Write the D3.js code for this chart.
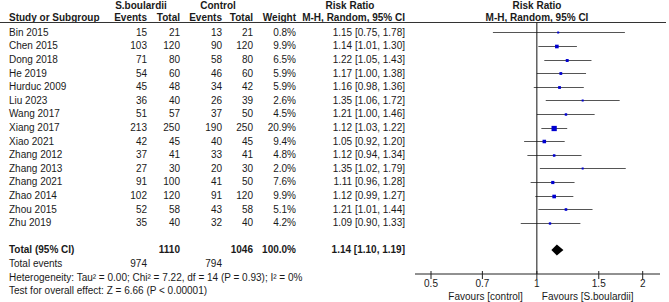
<!DOCTYPE html>
<html>
<head>
<meta charset="utf-8">
<script src="https://cdn.jsdelivr.net/npm/d3@7"></script>
<style>
  body { margin: 0; background: #fff; }
  text { font-family: "Liberation Sans", Arial, sans-serif; font-size: 10px; fill: #1a1a1a; }
  .bold { font-weight: bold; }
</style>
</head>
<body>
<div id="chart"></div>
<script>
const studies = ["Bin 2015", "Chen 2015", "Dong 2018", "He 2019", "Hurduc 2009", "Liu 2023", "Wang 2017", "Xiang 2017",
  "Xiao 2021", "Zhang 2012", "Zhang 2013", "Zhang 2021", "Zhao 2014", "Zhou 2015", "Zhu 2019"];
const expEvents = [15, 103, 71, 54, 45, 36, 51, 213, 42, 37, 27, 91, 102, 52, 35];
const expTotal = [21, 120, 80, 60, 48, 40, 57, 250, 45, 41, 30, 100, 120, 58, 40];
const ctlEvents = [13, 90, 58, 46, 34, 26, 37, 190, 40, 33, 20, 41, 91, 43, 32];
const ctlTotal = [21, 120, 80, 60, 42, 39, 50, 250, 45, 41, 30, 50, 120, 58, 40];
const weights = [0.8, 9.9, 6.5, 5.9, 5.9, 2.6, 4.5, 20.9, 9.4, 4.8, 2.0, 7.6, 9.9, 5.1, 4.2];
const rr = [1.15, 1.14, 1.22, 1.17, 1.16, 1.35, 1.21, 1.12, 1.05, 1.12, 1.35, 1.11, 1.12, 1.21, 1.09];
const lower = [0.75, 1.01, 1.05, 1.00, 0.98, 1.06, 1.00, 1.03, 0.92, 0.94, 1.02, 0.96, 0.99, 1.01, 0.90];
const upper = [1.78, 1.30, 1.43, 1.38, 1.36, 1.72, 1.46, 1.22, 1.20, 1.34, 1.79, 1.28, 1.27, 1.44, 1.33];
const total = { label: "Total (95% CI)", expTotal: 1110, ctlTotal: 1046, weight: "100.0%", rr: 1.14, lower: 1.10, upper: 1.19 };
const totalEvents = [974, 794];
const heterogeneity = "Heterogeneity: Tau\u00b2 = 0.00; Chi\u00b2 = 7.22, df = 14 (P = 0.93); I\u00b2 = 0%";
const overallTest = "Test for overall effect: Z = 6.66 (P < 0.00001)";
const axisTicks = [0.5, 0.7, 1, 1.5, 2];

const width = 669, height = 302;
const rowStep = 13.6, firstRow = 32.3;

const svg = d3.select("#chart").append("svg")
  .attr("width", width).attr("height", height);

// columns (right edge of numbers)
const col = { study: 9, expE: 147, expT: 180, ctlE: 222, ctlT: 253, weight: 296, rr: 405 };

const y = d3.scaleLinear().domain([0, 1]).range([firstRow, firstRow + rowStep]);
const x = d3.scaleLog().domain([0.5, 2]).range([431, 642.7]);
const axisY = 274;

function txt(xp, yp, s, anchor, cls) {
  return svg.append("text").attr("x", xp).attr("y", yp).attr("dy", "0.35em")
    .attr("text-anchor", anchor || "start").attr("class", cls || null).text(s);
}

// headers
txt(141, 5, "S.boulardii", "middle", "bold");
txt(218, 5, "Control", "middle", "bold");
txt(350, 5, "Risk Ratio", "middle", "bold");
txt(537, 5, "Risk Ratio", "middle", "bold");
txt(col.study, 17.5, "Study or Subgroup", "start", "bold");
txt(col.expE, 17.5, "Events", "end", "bold");
txt(col.expT, 17.5, "Total", "end", "bold");
txt(col.ctlE, 17.5, "Events", "end", "bold");
txt(col.ctlT, 17.5, "Total", "end", "bold");
txt(col.weight, 17.5, "Weight", "end", "bold");
txt(col.rr, 17.5, "M-H, Random, 95% CI", "end", "bold");
txt(537, 17.5, "M-H, Random, 95% CI", "middle", "bold");

svg.append("line").attr("x1", 0).attr("x2", 666).attr("y1", 22.5).attr("y2", 22.5)
  .attr("stroke", "#333").attr("stroke-width", 1.2);

// study rows
const rows = svg.selectAll(".row").data(studies).join("g").attr("class", "row");
rows.append("text").attr("x", col.study).attr("y", (d, i) => y(i)).attr("dy", "0.35em").text(d => d);
const cells = [[col.expE, expEvents], [col.expT, expTotal], [col.ctlE, ctlEvents], [col.ctlT, ctlTotal]];
cells.forEach(([cx, arr]) => {
  rows.append("text").attr("x", cx).attr("y", (d, i) => y(i)).attr("dy", "0.35em")
    .attr("text-anchor", "end").text((d, i) => arr[i]);
});
rows.append("text").attr("x", col.weight).attr("y", (d, i) => y(i)).attr("dy", "0.35em")
  .attr("text-anchor", "end").text((d, i) => weights[i].toFixed(1) + "%");
rows.append("text").attr("x", col.rr).attr("y", (d, i) => y(i)).attr("dy", "0.35em")
  .attr("text-anchor", "end")
  .text((d, i) => `${rr[i].toFixed(2)} [${lower[i].toFixed(2)}, ${upper[i].toFixed(2)}]`);

// total rows
const totalY = y(16);
txt(col.study, totalY, total.label, "start", "bold");
txt(col.expT, totalY, total.expTotal, "end", "bold");
txt(col.ctlT, totalY, total.ctlTotal, "end", "bold");
txt(col.weight, totalY, total.weight, "end", "bold");
txt(col.rr, totalY, `${total.rr.toFixed(2)} [${total.lower.toFixed(2)}, ${total.upper.toFixed(2)}]`, "end", "bold");
txt(col.study, y(17), "Total events");
txt(col.expE, y(17), totalEvents[0], "end");
txt(col.ctlE, y(17), totalEvents[1], "end");
txt(col.study, y(18), heterogeneity);
txt(col.study, y(19), overallTest);

// forest plot
svg.append("line").attr("x1", x(1)).attr("x2", x(1)).attr("y1", 22.5).attr("y2", axisY)
  .attr("stroke", "#111").attr("stroke-width", 1);

rows.append("line")
  .attr("x1", (d, i) => x(lower[i])).attr("x2", (d, i) => x(upper[i]))
  .attr("y1", (d, i) => Math.round(y(i)) + 0.5).attr("y2", (d, i) => Math.round(y(i)) + 0.5)
  .attr("stroke", "#555").attr("stroke-width", 1);

const sz = w => Math.max(2, 1.15 * Math.sqrt(w));
rows.append("rect")
  .attr("x", (d, i) => x(rr[i]) - sz(weights[i]) / 2)
  .attr("y", (d, i) => Math.round(y(i)) + 0.5 - sz(weights[i]) / 2)
  .attr("width", (d, i) => sz(weights[i])).attr("height", (d, i) => sz(weights[i]))
  .attr("fill", "#0000d0");

svg.append("path")
  .attr("d", `M${x(total.lower)},${totalY} L${x(total.rr)},${totalY - 5.5} L${x(total.upper)},${totalY} L${x(total.rr)},${totalY + 5.5} Z`)
  .attr("fill", "#000");

// axis
const axisG = svg.append("g").attr("transform", `translate(0,${axisY})`);
axisG.append("line").attr("x1", 415).attr("x2", 660).attr("y1", 0).attr("y2", 0)
  .attr("stroke", "#222");
axisG.selectAll(".tick").data(axisTicks).join("line")
  .attr("x1", d => x(d)).attr("x2", d => x(d)).attr("y1", -3).attr("y2", 5)
  .attr("stroke", "#222");
axisG.selectAll(".tlab").data(axisTicks).join("text")
  .attr("x", d => x(d)).attr("y", 9.5).attr("dy", "0.35em").attr("text-anchor", "middle")
  .text(d => d);

txt(x(1) - 14, 296, "Favours [control]", "end");
txt(x(1) + 5, 296, "Favours [S.boulardii]", "start");
</script>
</body>
</html>
